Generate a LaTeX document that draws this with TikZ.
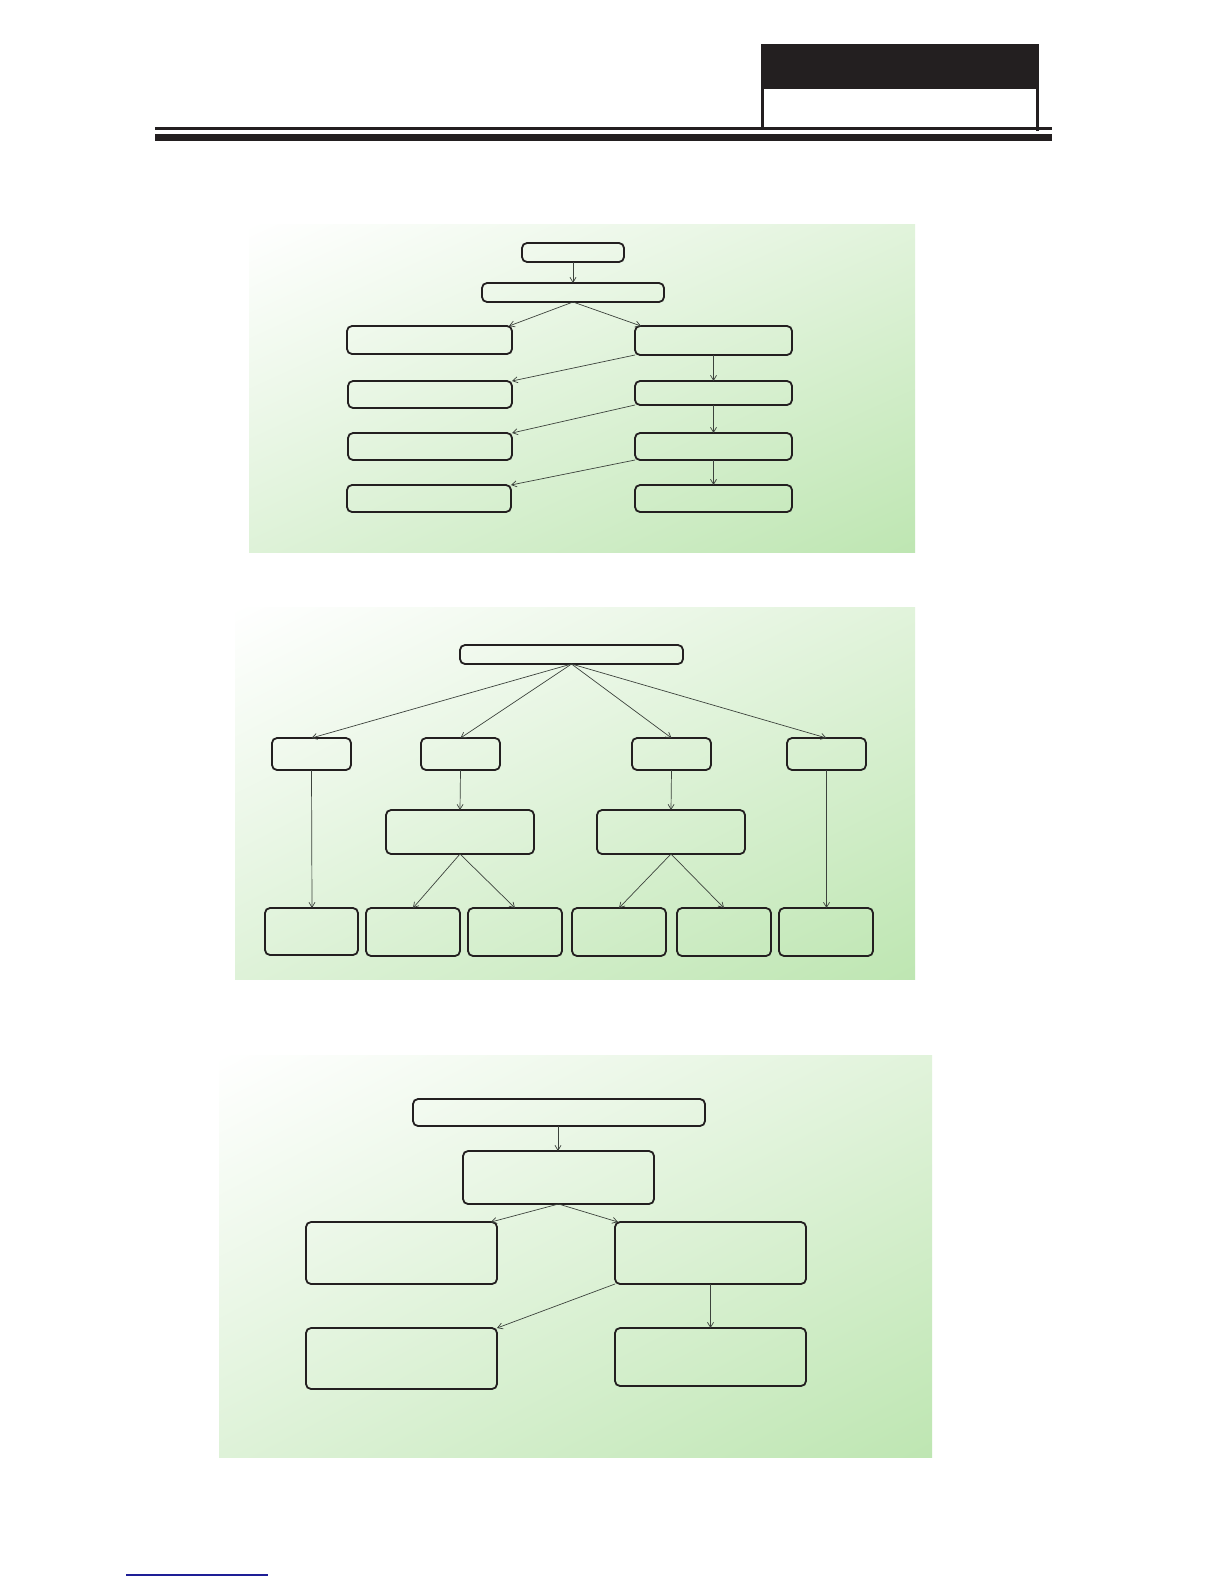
\documentclass[tikz,border=0pt]{standalone}
\usetikzlibrary{arrows.meta,shadings}
\definecolor{gA}{RGB}{255,255,255}
\definecolor{gB}{RGB}{222,242,216}
\definecolor{gC}{RGB}{225,243,219}
\definecolor{gD}{RGB}{190,230,178}
\definecolor{ink}{RGB}{35,31,32}
\definecolor{arrc}{RGB}{60,66,60}
\definecolor{footblue}{RGB}{30,30,150}
\tikzset{
  box/.style={draw=ink, line width=1.8pt, rounded corners=5pt, inner sep=0pt, outer sep=0pt},
  arr/.style={draw=arrc, line width=0.7pt, -{Straight Barb[length=5pt,width=6pt]}},
  panel/.style={upper left=gA, upper right=gC, lower left=gB, lower right=gD}
}
\newcommand{\bx}[5]{\node[box, minimum width={(#4-#2)*1pt}, minimum height={(#5-#3)*1pt}] (#1) at ({(#2+#4)/2},{(#3+#5)/2}) {};}
\begin{document}
\begin{tikzpicture}[x=1pt,y=-1pt]
\useasboundingbox (0,0) rectangle (1224,1584);
\fill[white] (0,0) rectangle (1224,1584);
% header
\fill[ink] (761,44) rectangle (1039,89);
\draw[ink, line width=3pt] (762.5,89) -- (762.5,129);
\draw[ink, line width=3pt] (1037.5,89) -- (1037.5,131);
\fill[ink] (155,127.5) rectangle (1052,130.5);
\fill[ink] (155,134) rectangle (1052,141);
% footer
\draw[footblue, line width=1.2pt] (126,1575) -- (268,1575);
% panels
\shade[panel] (249,224) rectangle (915,552);
\shade[panel] (235,607) rectangle (915,979);
\shade[panel] (219,1055) rectangle (932,1457);
% panel 1
\bx{a}{522}{243}{624}{262}
\bx{b}{482}{283}{664}{302}
\bx{l1}{347}{326}{512}{354}
\bx{r1}{635}{326}{792}{355}
\bx{l2}{348}{381}{512}{408}
\bx{r2}{635}{381}{792}{405}
\bx{l3}{348}{433}{512}{460}
\bx{r3}{635}{433}{792}{460}
\bx{l4}{347}{485}{511}{512}
\bx{r4}{635}{485}{792}{512}
\draw[arr] (a.south) -- (b.north);
\draw[arr] (b.south) -- ([xshift=-3pt]l1.north east);
\draw[arr] (b.south) -- ([xshift=6pt]r1.north west);
\draw[arr] ([xshift=-78.5pt]r1.south east) -- ([xshift=-78.5pt]r2.north east);
\draw[arr] ([xshift=-78.5pt]r2.south east) -- ([xshift=-78.5pt]r3.north east);
\draw[arr] ([xshift=-78.5pt]r3.south east) -- ([xshift=-78.5pt]r4.north east);
\draw[arr] (r1.south west) -- (l2.north east);
\draw[arr] (r2.south west) -- (l3.north east);
\draw[arr] (r3.south west) -- (l4.north east);
% panel 2
\bx{t}{460}{645}{683}{664}
\bx{c1}{272}{738}{351}{770}
\bx{c2}{421}{738}{500}{770}
\bx{c3}{632}{738}{711}{770}
\bx{c4}{787}{738}{866}{770}
\bx{m1}{386}{810}{534}{854}
\bx{m2}{597}{810}{745}{854}
\bx{e1}{265}{908}{358}{955}
\bx{e2}{366}{908}{460}{956}
\bx{e3}{468}{908}{562}{956}
\bx{e4}{572}{908}{666}{956}
\bx{e5}{677}{908}{771}{956}
\bx{e6}{779}{908}{873}{956}
\draw[arr] (t.south) -- (c1.north);
\draw[arr] (t.south) -- (c2.north);
\draw[arr] (t.south) -- (c3.north);
\draw[arr] (t.south) -- (c4.north);
\draw[arr] (c1.south) -- ([xshift=0.5pt]e1.north);
\draw[arr] (c2.south) -- (m1.north);
\draw[arr] (c3.south) -- (m2.north);
\draw[arr] (c4.south) -- ([xshift=0.5pt]e6.north);
\draw[arr] (m1.south) -- (e2.north);
\draw[arr] (m1.south) -- (e3.north);
\draw[arr] (m2.south) -- (e4.north);
\draw[arr] (m2.south) -- (e5.north);
% panel 3
\bx{u}{413}{1099}{705}{1126}
\bx{s}{463}{1151}{654}{1204}
\bx{p1}{306}{1222}{497}{1284}
\bx{p2}{615}{1222}{806}{1284}
\bx{q1}{306}{1328}{497}{1389}
\bx{q2}{615}{1328}{806}{1386}
\draw[arr] ([xshift=-1pt]u.south) -- ([xshift=-0.5pt]s.north);
\draw[arr] (s.south) -- ([xshift=-6pt]p1.north east);
\draw[arr] (s.south) -- ([xshift=3pt]p2.north west);
\draw[arr] (p2.south west) -- (q1.north east);
\draw[arr] (p2.south) -- (q2.north);
\end{tikzpicture}
\end{document}
